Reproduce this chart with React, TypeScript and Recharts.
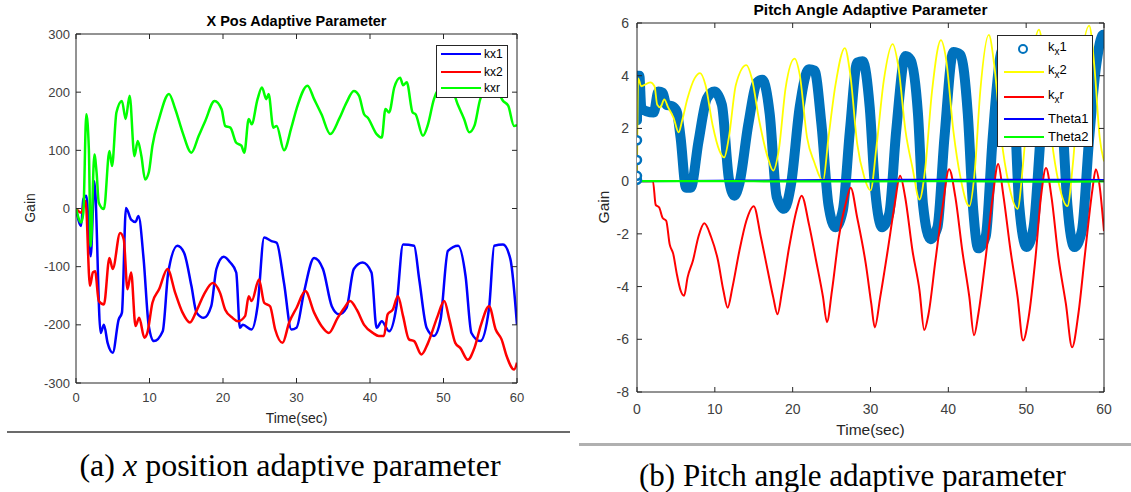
import { LineChart, Line, XAxis, YAxis } from 'recharts'

type Pt = [number, number]

const X_TICKS = [0, 10, 20, 30, 40, 50, 60]
const POS_Y_TICKS = [-300, -200, -100, 0, 100, 200, 300]
const PITCH_Y_TICKS = [-8, -6, -4, -2, 0, 2, 4, 6]

// (a) x position gains
const POS_KX1: Pt[] = [
  [0, 0], [0.7, -30], [1.0, 16], [1.4, 22], [2.0, -82], [2.5, 47], [3.35, -214], [3.8, -200],
  [4.3, -231], [5.0, -248], [5.8, -191], [6.25, -179], [6.8, 1], [7.5, -19], [8.1, -23], [8.5, -13],
  [9.2, -87], [9.9, -202], [10.6, -228], [11.8, -211], [12.55, -110], [13.8, -64], [14.7, -76],
  [15.7, -133], [16.4, -179], [17.4, -188], [18.4, -168], [19.1, -104], [20.1, -83], [21.0, -93],
  [21.8, -110], [22.3, -205], [22.7, -200], [23.9, -208], [24.7, -168], [25.6, -50], [26.6, -56],
  [27.3, -59], [28.3, -128], [29.3, -208], [30.0, -205], [31.0, -145], [32.4, -85], [33.6, -104],
  [34.8, -168], [35.8, -182], [36.8, -171], [37.8, -104], [39.0, -93], [40.2, -110], [40.9, -205],
  [41.6, -194], [42.6, -211], [43.6, -168], [44.5, -62], [46.0, -64], [46.7, -122], [47.7, -205],
  [48.7, -219], [49.6, -191], [50.6, -73], [52.0, -64], [53.0, -116], [53.8, -214], [55.0, -228],
  [56.2, -171], [56.9, -64], [58.1, -62], [59.1, -87], [60, -200],
]

const POS_KX2: Pt[] = [
  [0, 0], [0.7, -7], [1.3, 13], [1.9, -133], [2.3, -110], [2.6, -108], [3.1, -159], [3.8, -165],
  [4.55, -85], [5.0, -104], [6.0, -42], [6.5, -53], [7.0, -139], [7.5, -110], [8.1, -202], [8.6, -188],
  [9.3, -222], [9.7, -214], [10.4, -162], [11.3, -139], [12.45, -104], [13.5, -145], [14.5, -179],
  [15.5, -196], [16.4, -176], [17.4, -148], [18.6, -128], [19.6, -145], [20.3, -174], [21.3, -188],
  [22.0, -194], [23.0, -185], [23.5, -151], [23.9, -159], [24.9, -122], [25.6, -162], [26.4, -168],
  [27.1, -208], [28.1, -231], [29.0, -196], [30.0, -171], [31.2, -142], [32.4, -179], [33.4, -202],
  [34.4, -214], [35.6, -188], [36.5, -171], [37.3, -159], [38.2, -174], [39.2, -200], [40.4, -214],
  [41.2, -219], [41.9, -219], [42.4, -182], [43.1, -174], [43.8, -151], [44.5, -185], [45.3, -225],
  [46.0, -228], [47.0, -251], [47.9, -231], [49.2, -185], [50.1, -159], [50.8, -191], [51.6, -231],
  [52.3, -240], [53.3, -260], [54.2, -240], [55.1, -200], [56.2, -168], [57.1, -208], [57.9, -225],
  [58.6, -254], [59.6, -277], [60, -265],
]

const POS_KXR: Pt[] = [
  [0, 0], [0.7, -24], [1.0, -7], [1.4, 162], [1.75, 102], [2.0, -65], [2.5, 93], [2.8, 62],
  [3.1, 10], [3.8, -1], [4.55, 99], [4.9, 73], [5.5, 165], [6.25, 185], [6.75, 154], [7.3, 194],
  [7.95, 90], [8.4, 116], [8.9, 90], [9.4, 50], [9.9, 62], [10.4, 108], [11.3, 154], [12.65, 197],
  [13.5, 171], [14.5, 131], [15.7, 96], [16.7, 125], [17.6, 151], [18.85, 185], [19.8, 171],
  [20.3, 142], [21.0, 139], [21.8, 113], [22.5, 108], [22.9, 96], [23.5, 154], [23.9, 145],
  [24.7, 188], [25.3, 208], [25.9, 188], [26.2, 197], [26.85, 139], [27.3, 142], [28.3, 100],
  [29.3, 139], [30.0, 171], [31.5, 211], [32.4, 188], [33.4, 162], [34.6, 128], [35.8, 154],
  [36.8, 182], [37.8, 202], [38.5, 194], [39.2, 162], [39.7, 156], [40.9, 128], [41.6, 122],
  [42.1, 171], [42.6, 165], [43.3, 208], [44.1, 225], [44.5, 212], [45.0, 217], [45.8, 165],
  [46.2, 162], [47.2, 125], [47.9, 145], [48.7, 188], [49.9, 211], [51.1, 205], [52.0, 177],
  [52.8, 154], [53.5, 131], [54.2, 142], [55.0, 188], [55.9, 205], [57.1, 205], [58.1, 185],
  [58.8, 177], [59.6, 142], [60, 143],
]

// (b) pitch angle gains
const PITCH_KX1_START: Pt[] = [[0, 0.05], [0, 0.2], [0, 0.8], [0, 1.55]]

const PITCH_KX1: Pt[] = [
  [0, 2.3], [0.12, 4.0], [0.3, 4.0], [0.55, 2.8], [1.2, 2.65], [2.15, 2.6], [2.75, 3.4], [3.3, 3.35],
  [3.75, 2.9], [4.45, 2.85], [5.1, 2.65], [5.6, 1.65], [6.3, -0.25], [6.9, -0.25], [7.9, 1.5],
  [9.0, 3.15], [9.95, 3.4], [10.9, 2.9], [11.8, 0.1], [12.5, -0.55], [13.15, -0.1], [14.3, 2.15],
  [15.45, 3.75], [16.1, 3.85], [17.05, 2.55], [17.95, -0.6], [18.9, -1.05], [19.8, -0.1],
  [20.9, 2.8], [22.1, 4.25], [22.8, 4.2], [23.7, 2.15], [24.6, -0.9], [25.5, -1.75], [26.45, -1.1],
  [27.35, 1.9], [28.3, 4.5], [29.0, 4.55], [29.9, 2.8], [30.6, -0.35], [31.5, -1.75], [32.4, -1.25],
  [33.3, 1.9], [34.5, 4.75], [35.15, 4.6], [36.1, 2.55], [36.75, -0.9], [37.7, -2.2], [38.6, -1.75],
  [39.5, 1.65], [40.65, 4.9], [41.55, 4.8], [42.5, 2.55], [43.2, -1.1], [43.85, -2.55], [44.8, -2.1],
  [45.7, 1.65], [46.8, 4.9], [47.75, 5.2], [48.45, 3.15], [49.1, -0.9], [50.05, -2.5], [50.95, -1.75],
  [51.9, 1.9], [52.8, 5.05], [53.9, 5.2], [54.6, 2.55], [55.3, -0.9], [56.2, -2.5], [57.15, -1.9],
  [58.1, 1.65], [59.0, 4.4], [59.9, 5.55], [60, 5.55],
]

const PITCH_KX2: Pt[] = [
  [0, 0], [0.15, 3.9], [0.55, 3.6], [1.7, 3.75], [2.25, 3.6], [2.6, 2.9], [3.0, 2.8], [3.5, 3.1],
  [4.0, 2.8], [4.7, 2.4], [5.35, 1.85], [5.8, 2.3], [6.5, 3.15], [7.4, 3.9], [8.1, 4.1], [8.8, 3.65],
  [9.7, 2.15], [10.6, 1.15], [11.2, 0.9], [11.8, 1.65], [12.7, 3.65], [14.05, 4.4], [14.75, 3.9],
  [15.7, 2.3], [16.8, 0.9], [17.5, 0.4], [18.2, 1.15], [19.1, 3.55], [20.25, 4.65], [20.9, 4.05],
  [21.85, 1.65], [22.8, 0.7], [23.9, 0], [24.6, 1.65], [25.5, 3.65], [26.7, 5.05], [27.4, 4.05],
  [28.3, 1.4], [29.2, 0.15], [30.0, -0.35], [30.8, 1.4], [31.7, 3.8], [32.85, 5.2], [33.55, 4.4],
  [34.5, 1.9], [35.4, 0.5], [36.3, -0.7], [37.0, 0.4], [37.9, 3.4], [39.05, 5.35], [39.7, 4.65],
  [40.65, 1.9], [41.55, 0.15], [42.7, -0.95], [43.4, 0.4], [44.1, 3.4], [45.2, 5.55], [45.9, 4.4],
  [46.8, 1.65], [47.75, -0.1], [48.9, -1.05], [49.6, 0.65], [50.5, 3.8], [51.65, 5.75], [52.35, 4.4],
  [53.25, 1.65], [54.2, -0.1], [55.3, -0.95], [56.0, 0.65], [56.9, 4.05], [58.1, 5.9], [58.75, 4.4],
  [59.45, 1.65], [60, 0.75],
]

const PITCH_KXR: Pt[] = [
  [0, 0], [2.05, 0], [2.4, -0.9], [2.85, -1.0], [3.3, -1.4], [3.75, -1.5], [4.2, -2.4], [4.65, -2.75],
  [5.1, -3.5], [5.6, -4.15], [6.05, -4.35], [6.5, -3.65], [7.2, -3.0], [7.9, -2.1], [8.65, -1.6],
  [9.5, -2.1], [10.4, -3.0], [11.1, -4.15], [11.65, -4.8], [12.25, -4.05], [13.15, -2.65],
  [14.05, -1.5], [15.0, -0.95], [15.9, -2.1], [16.8, -3.4], [17.5, -4.4], [18.05, -5.05],
  [18.65, -4.15], [19.55, -2.5], [20.5, -1.1], [21.15, -0.55], [22.1, -1.65], [23.0, -3.0],
  [23.9, -4.4], [24.4, -5.35], [25.05, -4.15], [25.95, -2.1], [26.9, -0.75], [27.45, -0.25],
  [28.3, -1.4], [29.4, -3.15], [30.1, -4.65], [30.55, -5.55], [31.25, -4.4], [32.2, -2.65],
  [33.1, -0.9], [33.8, 0.2], [34.45, -0.6], [35.4, -2.65], [36.3, -4.15], [36.9, -5.65],
  [37.45, -5.05], [38.35, -3.0], [39.3, -0.9], [40.1, 0.45], [40.9, -0.6], [41.8, -2.65],
  [42.7, -4.4], [43.3, -5.85], [43.85, -5.05], [44.8, -2.9], [45.7, -0.6], [46.4, 0.65],
  [47.05, -0.5], [48.0, -2.65], [48.9, -4.4], [49.6, -6.05], [50.3, -5.2], [51.2, -2.9],
  [51.9, -0.6], [52.55, 0.5], [53.25, -0.6], [54.15, -2.9], [55.1, -4.65], [55.9, -6.3],
  [56.7, -5.05], [57.6, -2.65], [58.5, -0.35], [58.95, 0.45], [59.4, -0.1], [60, -1.9],
]

const PITCH_THETA1: Pt[] = [[0, 0], [10, 0.01], [20, 0.03], [30, 0.04], [40, 0.05], [50, 0.05], [60, 0.04]]
const PITCH_THETA2: Pt[] = [[0, 0], [10, 0], [20, -0.01], [30, -0.01], [40, 0], [50, -0.02], [60, -0.01]]

const rows = (pts: Pt[]) => pts.map(([t, v]) => ({ t, v }))

const AXIS = '#262626'
const SANS = '"Liberation Sans", Arial, sans-serif'
const SERIF = '"Liberation Serif", "Times New Roman", serif'

const tickStyle = (size: number) => ({ fill: '#404040', fontSize: size, fontFamily: SANS })
const blank = () => ''

export default function App() {
  return (
    <div style={{ position: 'absolute', left: 0, top: 0, width: 1131, height: 492, background: '#fff', fontFamily: SANS }}>
      {/* (a) X position */}
      <div style={{ position: 'absolute', left: 0, top: 0 }}>
        <LineChart width={560} height={440} margin={{ top: 0, right: 0, bottom: 0, left: 0 }}>
          <XAxis xAxisId="b" type="number" dataKey="t" domain={[0, 60]} ticks={X_TICKS} interval={0}
            height={57} stroke={AXIS} tickSize={-5} tickMargin={15} tick={tickStyle(13)} allowDataOverflow />
          <XAxis xAxisId="t" orientation="top" type="number" dataKey="t" domain={[0, 60]} ticks={X_TICKS}
            interval={0} height={34} stroke={AXIS} tickSize={-5} tickFormatter={blank} allowDataOverflow />
          <YAxis yAxisId="l" type="number" domain={[-300, 300]} ticks={POS_Y_TICKS} interval={0}
            width={76} stroke={AXIS} tickSize={-5} tickMargin={11} tick={tickStyle(13)} allowDataOverflow />
          <YAxis yAxisId="r" orientation="right" type="number" domain={[-300, 300]} ticks={POS_Y_TICKS}
            interval={0} width={43} stroke={AXIS} tickSize={-5} tickFormatter={blank} allowDataOverflow />
          <Line xAxisId="b" yAxisId="l" data={rows(POS_KX1)} dataKey="v" type="monotone" stroke="#0000ff"
            strokeWidth={2.5} dot={false} isAnimationActive={false} />
          <Line xAxisId="b" yAxisId="l" data={rows(POS_KX2)} dataKey="v" type="monotone" stroke="#ff0000"
            strokeWidth={2.5} dot={false} isAnimationActive={false} />
          <Line xAxisId="b" yAxisId="l" data={rows(POS_KXR)} dataKey="v" type="monotone" stroke="#00ff00"
            strokeWidth={2.5} dot={false} isAnimationActive={false} />
        </LineChart>
      </div>

      {/* (b) Pitch angle */}
      <div style={{ position: 'absolute', left: 570, top: 0 }}>
        <LineChart width={561} height={460} margin={{ top: 0, right: 0, bottom: 0, left: 0 }}>
          <XAxis xAxisId="b" type="number" dataKey="t" domain={[0, 60]} ticks={X_TICKS} interval={0}
            height={68} stroke={AXIS} tickSize={-5} tickMargin={17} tick={tickStyle(14)} allowDataOverflow />
          <XAxis xAxisId="t" orientation="top" type="number" dataKey="t" domain={[0, 60]} ticks={X_TICKS}
            interval={0} height={23} stroke={AXIS} tickSize={-5} tickFormatter={blank} allowDataOverflow />
          <YAxis yAxisId="l" type="number" domain={[-8, 6]} ticks={PITCH_Y_TICKS} interval={0}
            width={67} stroke={AXIS} tickSize={-5} tickMargin={13} tick={tickStyle(14)} allowDataOverflow />
          <YAxis yAxisId="r" orientation="right" type="number" domain={[-8, 6]} ticks={PITCH_Y_TICKS}
            interval={0} width={27} stroke={AXIS} tickSize={-5} tickFormatter={blank} allowDataOverflow />
          <Line xAxisId="b" yAxisId="l" data={rows(PITCH_KX1)} dataKey="v" type="monotone" stroke="#0072bd"
            strokeWidth={10} strokeLinejoin="round" strokeLinecap="round" dot={false} isAnimationActive={false} />
          <Line xAxisId="b" yAxisId="l" data={rows(PITCH_KX1_START)} dataKey="v" type="linear" stroke="none"
            dot={{ r: 4, stroke: '#0072bd', strokeWidth: 2.5, fill: '#fff' }} isAnimationActive={false} />
          <Line xAxisId="b" yAxisId="l" data={rows(PITCH_KX2)} dataKey="v" type="monotone" stroke="#ffff00"
            strokeWidth={1.8} dot={false} isAnimationActive={false} />
          <Line xAxisId="b" yAxisId="l" data={rows(PITCH_KXR)} dataKey="v" type="monotone" stroke="#ff0000"
            strokeWidth={2} dot={false} isAnimationActive={false} />
          <Line xAxisId="b" yAxisId="l" data={rows(PITCH_THETA1)} dataKey="v" type="monotone" stroke="#0000ff"
            strokeWidth={2.2} dot={false} isAnimationActive={false} />
          <Line xAxisId="b" yAxisId="l" data={rows(PITCH_THETA2)} dataKey="v" type="monotone" stroke="#00ff00"
            strokeWidth={2.2} dot={false} isAnimationActive={false} />
        </LineChart>
      </div>

      {/* titles and axis labels */}
      <div style={{ position: 'absolute', left: 76, width: 441, top: 13, lineHeight: '16px', textAlign: 'center', fontSize: 14.5, fontWeight: 700, color: '#000' }}>
        X Pos Adaptive Parameter
      </div>
      <div style={{ position: 'absolute', left: 637, width: 467, top: 2, lineHeight: '16px', textAlign: 'center', fontSize: 15.5, fontWeight: 700, color: '#000' }}>
        Pitch Angle Adaptive Parameter
      </div>
      <div style={{ position: 'absolute', left: 76, width: 441, top: 410, lineHeight: '16px', textAlign: 'center', fontSize: 14, color: AXIS }}>
        Time(sec)
      </div>
      <div style={{ position: 'absolute', left: 637, width: 467, top: 421, lineHeight: '18px', textAlign: 'center', fontSize: 15.5, color: AXIS }}>
        Time(sec)
      </div>
      <div style={{ position: 'absolute', left: 30, top: 208, transform: 'translate(-50%, -50%) rotate(-90deg)', fontSize: 14, color: AXIS, lineHeight: '16px' }}>
        Gain
      </div>
      <div style={{ position: 'absolute', left: 604, top: 207, transform: 'translate(-50%, -50%) rotate(-90deg)', fontSize: 15.5, color: AXIS, lineHeight: '18px' }}>
        Gain
      </div>

      {/* legend (a) */}
      <div style={{ position: 'absolute', left: 436, top: 45, width: 70, height: 51, border: `1px solid ${AXIS}`, background: '#fff', fontSize: 12, color: '#000' }}>
        {[['kx1', '#0000ff', 8], ['kx2', '#ff0000', 26], ['kxr', '#00ff00', 42]].map(([name, color, y]) => (
          <div key={name as string} style={{ position: 'absolute', left: 0, top: (y as number) - 7, height: 14, display: 'flex', alignItems: 'center' }}>
            <span style={{ marginLeft: 4, width: 40, height: 2.5, background: color as string }} />
            <span style={{ marginLeft: 3, lineHeight: '14px' }}>{name}</span>
          </div>
        ))}
      </div>

      {/* legend (b) */}
      <div style={{ position: 'absolute', left: 997, top: 35, width: 94, height: 110, border: `1px solid ${AXIS}`, background: '#fff', fontSize: 13, color: '#000' }}>
        <div style={{ position: 'absolute', left: 20, top: 8, width: 10, height: 10, borderRadius: '50%', border: '2.5px solid #0072bd', boxSizing: 'border-box' }} />
        {[
          { key: 'kx1', sub: '1', color: 'none', y: 13 },
          { key: 'kx2', sub: '2', color: '#ffff00', y: 36 },
          { key: 'kxr', sub: 'r', color: '#ff0000', y: 61 },
        ].map(e => (
          <div key={e.key} style={{ position: 'absolute', left: 0, top: e.y - 9, height: 18, display: 'flex', alignItems: 'center' }}>
            <span style={{ marginLeft: 6, width: 40, height: 2.5, background: e.color }} />
            <span style={{ marginLeft: 4, lineHeight: '18px' }}>
              k<sub style={{ fontSize: 10, verticalAlign: -4 }}>x</sub>{e.sub}
            </span>
          </div>
        ))}
        {[['Theta1', '#0000ff', 83], ['Theta2', '#00ff00', 101]].map(([name, color, y]) => (
          <div key={name as string} style={{ position: 'absolute', left: 0, top: (y as number) - 8, height: 16, display: 'flex', alignItems: 'center' }}>
            <span style={{ marginLeft: 6, width: 40, height: 2.5, background: color as string }} />
            <span style={{ marginLeft: 4, lineHeight: '16px' }}>{name}</span>
          </div>
        ))}
      </div>

      {/* rules under the panels */}
      <div style={{ position: 'absolute', left: 7, top: 431, width: 563, height: 2, background: '#6b6b6b' }} />
      <div style={{ position: 'absolute', left: 579, top: 443, width: 552, height: 3, background: '#b0b0b0' }} />

      {/* captions */}
      <div style={{ position: 'absolute', left: 0, width: 580, top: 448, lineHeight: '34px', textAlign: 'center', fontFamily: SERIF, fontSize: 32, color: '#000' }}>
        (a) <i>x</i> position adaptive parameter
      </div>
      <div style={{ position: 'absolute', left: 574, width: 557, top: 460, lineHeight: '31px', textAlign: 'center', fontFamily: SERIF, fontSize: 31, color: '#000' }}>
        (b) Pitch angle adaptive parameter
      </div>
    </div>
  )
}
